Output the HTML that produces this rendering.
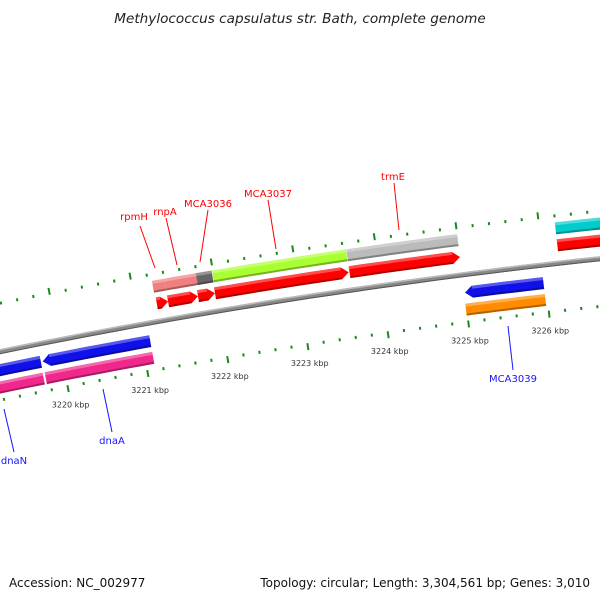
<!DOCTYPE html>
<html><head><meta charset="utf-8"><style>
body{margin:0;background:#fff}
svg{display:block;font-family:"DejaVu Sans","Liberation Sans",sans-serif}
</style></head><body>
<svg id="map" width="600" height="600" viewBox="0 0 600 600" xmlns="http://www.w3.org/2000/svg">
<rect width="600" height="600" fill="#fff"/>
<text x="300" y="23" text-anchor="middle" font-size="13.6" font-style="italic" fill="#222">Methylococcus capsulatus str. Bath, complete genome</text>
<g id="layer"></g>
<text x="9" y="587" font-size="12" fill="#111">Accession: NC_002977</text>
<text x="590" y="587" text-anchor="end" font-size="12" fill="#111">Topology: circular; Length: 3,304,561 bp; Genes: 3,010</text>
</svg>
<script>
// feature data (bp)
const fwdGeneStarts=[3221250,3221400,3221790,3221990,3223640,3226195];
const fwdGeneEnds=[3221400,3221790,3221985,3223635,3225000,3228000];
const fwdGeneColors=["#f08080","#f08080","#666666","#aaff33","#bbbbbb","#00cccc"];
const fwdCdsStarts=[3221260,3221400,3221770,3221980,3223640,3226195];
const fwdCdsEnds=[3221400,3221770,3221980,3223630,3225000,3228000];
const revCdsStarts=[3218000,3219758,3225005];
const revCdsEnds=[3219735,3221100,3225975];
const revGeneStarts=[3218000,3219755,3224990];
const revGeneEnds=[3219730,3221100,3225975];
const revGeneColors=["#f0288c","#f0288c","#ff8c00"];
const tickLabels=[3220,3221,3222,3223,3224,3225,3226];

const CX=1259,CY=6494,R=6270;
const NS="http://www.w3.org/2000/svg";
const layer=document.getElementById('layer');
function phi(bp){return (-10.29+(bp-3221000)/1000*0.7475)*Math.PI/180;}
function P(r,bp){const a=phi(bp);return [CX+r*Math.sin(a),CY-r*Math.cos(a)];}
function arcPts(r,b1,b2,n){const o=[];for(let i=0;i<=n;i++){o.push(P(r,b1+(b2-b1)*i/n));}return o;}
function poly(pts,fill,name,op){const e=document.createElementNS(NS,'polygon');
e.setAttribute('points',pts.map(p=>p[0].toFixed(1)+','+p[1].toFixed(1)).join(' '));
e.setAttribute('fill',fill);if(op!==undefined)e.setAttribute('fill-opacity',op);


layer.appendChild(e);return e;}
function feature(b1,b2,rc,h,color,dir,name){
  const head=90;let pts;
  if(dir===1){const e=Math.max(b1,b2-head);pts=arcPts(rc+h,b1,e,8).concat([P(rc,b2)]).concat(arcPts(rc-h,e,b1,8));}
  else if(dir===-1){const s=Math.min(b2,b1+head);pts=[P(rc,b1)].concat(arcPts(rc+h,s,b2,8)).concat(arcPts(rc-h,b2,s,8));}
  else pts=arcPts(rc+h,b1,b2,8).concat(arcPts(rc-h,b2,b1,8));
  poly(pts,color,name);
  let s1=b1,s2=b2; if(dir===1)s2=Math.max(b1,b2-head); if(dir===-1)s1=Math.min(b2,b1+head);
  poly(arcPts(rc+h,s1,s2,8).concat(arcPts(rc+h-3,s2,s1,8)),'#fff',name+'-highlight',0.3);
  poly(arcPts(rc-h+2,s1,s2,8).concat(arcPts(rc-h,s2,s1,8)),'#000',name+'-shadow',0.3);
}
// backbone
poly(arcPts(R+2.5,3216000,3229000,60).concat(arcPts(R-2.5,3229000,3216000,60)),'#888','backbone');
poly(arcPts(R+2.5,3216000,3229000,60).concat(arcPts(R+1,3229000,3216000,60)),'#bbb','backbone-highlight');
poly(arcPts(R-1.5,3216000,3229000,60).concat(arcPts(R-2.5,3229000,3216000,60)),'#555','backbone-shadow');
// features
for(let i=0;i<fwdGeneStarts.length;i++)feature(fwdGeneStarts[i],fwdGeneEnds[i],R+35,6,fwdGeneColors[i],0,'forward-gene-'+i);
for(let i=0;i<fwdCdsStarts.length;i++)feature(fwdCdsStarts[i],fwdCdsEnds[i],R+18,6,'#ff0000',1,'forward-cds-'+i);
for(let i=0;i<revCdsStarts.length;i++)feature(revCdsStarts[i],revCdsEnds[i],R-18,6,'#1010e8',-1,'reverse-cds-'+i);
for(let i=0;i<revGeneStarts.length;i++)feature(revGeneStarts[i],revGeneEnds[i],R-35,6,revGeneColors[i],0,'reverse-gene-'+i);
// ticks
function line(a,b,color,w,name){const e=document.createElementNS(NS,'line');
e.setAttribute('x1',a[0]);e.setAttribute('y1',a[1]);e.setAttribute('x2',b[0]);e.setAttribute('y2',b[1]);
e.setAttribute('stroke',color);e.setAttribute('stroke-width',w);


layer.appendChild(e);}
for(let bp=3217000;bp<=3229000;bp+=200){
  const major=bp%1000===0;const L=major?7:3;
  line(P(R+46,bp),P(R+46+L,bp),'#1a8a1a',2,'outer-tick');
  line(P(R-46,bp),P(R-46-L,bp),'#1a8a1a',2,'inner-tick');
}
for(const k of tickLabels){const p=P(R-68,k*1000);
  const t=document.createElementNS(NS,'text');t.setAttribute('x',p[0]-1);t.setAttribute('y',p[1]+1);
  t.setAttribute('font-size','8');t.setAttribute('text-anchor','middle');t.setAttribute('fill','#333');
  
  
  t.textContent=k+' kbp';layer.appendChild(t);}
// gene labels
const labelNames=["rpmH","rnpA","MCA3036","MCA3037","trmE","dnaA","dnaN","MCA3039"];
const labelColors=["#f00","#f00","#f00","#f00","#f00","#1515ff","#1515ff","#1515ff"];
const labelPos=[[134,220,140,226,155,268],[165,215,166,218,177,265],[208,207,208,210,200,262],[268,197,268,200,276,249],[393,180,394,183,399,230],[112,444,103,389,112,432],[14,464,4,409,14,452],[513,382,508,326,513,370]];
for(let i=0;i<labelNames.length;i++){const q=labelPos[i];
  line([q[2],q[3]],[q[4],q[5]],labelColors[i],1,'leader-line-'+labelNames[i]);
  const t=document.createElementNS(NS,'text');t.setAttribute('x',q[0]);t.setAttribute('y',q[1]);
  t.setAttribute('font-size','10');t.setAttribute('text-anchor','middle');t.setAttribute('fill',labelColors[i]);
  
  
  t.textContent=labelNames[i];layer.appendChild(t);}
</script>
</body></html>
